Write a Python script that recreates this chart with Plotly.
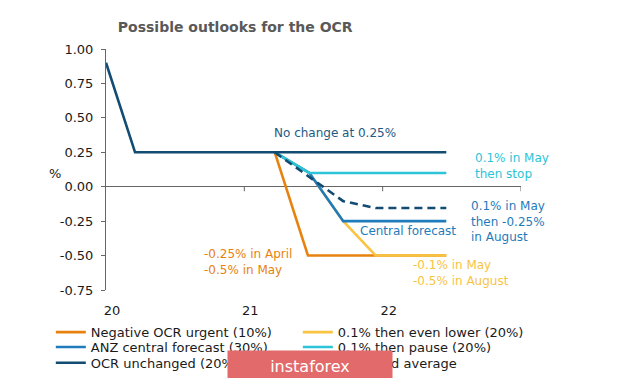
import plotly.graph_objects as go

# ---- data ----
unchanged_x = [2020.0, 2020.21, 2021.22, 2022.46]
unchanged_y = [0.90, 0.25, 0.25, 0.25]

urgent_x = [2021.22, 2021.46, 2022.46]
urgent_y = [0.25, -0.50, -0.50]

central_x = [2021.22, 2021.47, 2021.715, 2022.46]
central_y = [0.25, 0.10, -0.25, -0.25]

lower_x = [2021.22, 2021.47, 2021.715, 2021.95, 2022.46]
lower_y = [0.25, 0.10, -0.25, -0.50, -0.50]

pause_x = [2021.22, 2021.47, 2022.46]
pause_y = [0.25, 0.10, 0.10]

weighted_x = [2021.22, 2021.47, 2021.715, 2021.95, 2022.46]
weighted_y = [0.25, 0.07, -0.105, -0.155, -0.155]

y_ticks = [-0.75, -0.5, -0.25, 0.0, 0.25, 0.5, 0.75, 1.0]
y_ticktext = ["-0.75", "-0.50", "-0.25", "0.00", "0.25", "0.50", "0.75", "1.00"]
x_ticks = [2020, 2021, 2022]
x_ticktext = ["20", "21", "22"]
x_tickmarks = [2021, 2022, 2023]

NAVY = "#134c72"
BLUE = "#1f7bbb"
CYAN = "#2cc4d8"
ORANGE = "#e8820e"
YELLOW = "#f8c442"
FONT = "DejaVu Sans"

fig = go.Figure()
series = [
    ("Negative OCR urgent (10%)", urgent_x, urgent_y, ORANGE, "solid", "legend"),
    ("0.1% then even lower (20%)", lower_x, lower_y, YELLOW, "solid", "legend"),
    ("ANZ central forecast (30%)", central_x, central_y, BLUE, "solid", "legend2"),
    ("0.1% then pause (20%)", pause_x, pause_y, CYAN, "solid", "legend2"),
    ("OCR unchanged (20%)", unchanged_x, unchanged_y, NAVY, "solid", "legend3"),
    ("Weighted average", weighted_x, weighted_y, NAVY, "8px,5px", "legend3"),
]
for name, xs, ys, col, dash, lg in series:
    fig.add_trace(go.Scatter(x=xs, y=ys, mode="lines", name=name,
                             line=dict(color=col, width=2.6, dash=dash),
                             legend=lg, hoverinfo="skip"))

# tick marks on the zero line
for t in x_tickmarks:
    fig.add_shape(type="line", xref="x", yref="y", x0=t, x1=t, y0=0, y1=-0.033,
                  line=dict(color="#666666", width=1))

def ann(text, x, y, col, xanchor="left"):
    fig.add_annotation(text=text, x=x, y=y, xref="x", yref="y", showarrow=False,
                       xanchor=xanchor, yanchor="middle", align="left",
                       font=dict(family=FONT, size=12, color=col))

ann("No change at 0.25%", 2021.655, 0.393, "#1d5a84", "center")
ann("0.1% in May<br>then stop", 2022.655, 0.148, CYAN)
ann("0.1% in May<br>then -0.25%<br>in August", 2022.624, -0.253, BLUE)
ann("Central forecast", 2021.82, -0.323, BLUE)
ann("-0.25% in April<br>-0.5% in May", 2020.691, -0.544, ORANGE)
ann("-0.1% in May<br>-0.5% in August", 2022.205, -0.630, YELLOW)

fig.add_annotation(text="%", xref="paper", yref="y", x=-0.122, y=0.097,
                   showarrow=False, xanchor="center", yanchor="middle",
                   font=dict(family=FONT, size=13, color="#1a1a1a"))

# watermark
fig.add_annotation(text="instaforex", xref="paper", yref="paper", x=0.4916, y=-0.316,
                   showarrow=False, xanchor="center", yanchor="middle",
                   width=162, height=28, bgcolor="#e26a6a",
                   font=dict(family=FONT, size=16, color="white"))

leg = dict(orientation="h", xanchor="left", yanchor="middle", x=-0.133,
           font=dict(family=FONT, size=13, color="#1a1a1a"),
           entrywidth=202, itemwidth=30, bgcolor="rgba(0,0,0,0)",
           itemclick=False)

fig.update_layout(
    width=620, height=378,
    margin=dict(l=98, r=107, t=41, b=96, autoexpand=False),
    paper_bgcolor="white", plot_bgcolor="white",
    font=dict(family=FONT, size=13, color="#1a1a1a"),
    title=dict(text="Possible outlooks for the OCR", x=0.0284, xref="paper",
               xanchor="left", y=0.9505, yanchor="middle",
               font=dict(family=FONT, size=14, color="#595959", weight="bold")),
    xaxis=dict(range=[2020, 2023], tickvals=x_ticks, ticktext=x_ticktext,
               showgrid=False, zeroline=False, showline=False, ticks="",
               ticklabelshift=6, ticklabelstandoff=11,
               tickfont=dict(family=FONT, size=13, color="#1a1a1a")),
    yaxis=dict(range=[-0.75, 1.0], tickvals=y_ticks, ticktext=y_ticktext,
               showgrid=False, zeroline=True, zerolinecolor="#666666", zerolinewidth=1,
               showline=True, linecolor="#666666", linewidth=1,
               ticks="outside", ticklen=4, tickcolor="#666666",
               ticklabelstandoff=5,
               tickfont=dict(family=FONT, size=13, color="#1a1a1a")),
    legend=dict(leg, y=-0.175),
    legend2=dict(leg, y=-0.237),
    legend3=dict(leg, y=-0.302),
    showlegend=True,
)

fig.write_html("out.html")
